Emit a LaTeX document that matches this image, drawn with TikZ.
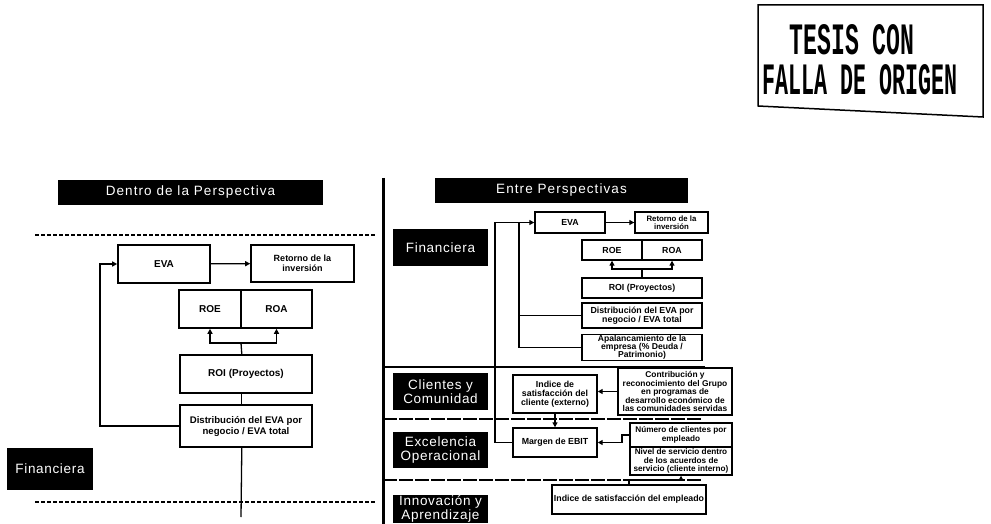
\documentclass[tikz,border=0pt]{standalone}
\usepackage{fontspec}
\setmainfont{Liberation Sans}
\newfontfamily\stampfont{Liberation Mono}
\usetikzlibrary{arrows.meta}

\begin{document}
\begin{tikzpicture}[x=1pt,y=-1pt,
  box/.style={draw, line width=1.6pt, inner sep=1pt, align=center,
    font=\bfseries\fontsize{10}{11}\selectfont},
  sbox/.style={box, line width=1.4pt, font=\bfseries\fontsize{8.8}{8.9}\selectfont},
  blk/.style={fill=black, text=white, inner sep=0pt, align=center,
    font=\fontsize{13.5}{13.5}\selectfont\addfontfeature{LetterSpace=5}},
  hdr/.style={blk, font=\fontsize{13.5}{14}\selectfont\addfontfeature{LetterSpace=8}},
  conn/.style={line width=1.3pt},
  arr/.style={conn, -{Triangle[length=5pt,width=5pt]}},
  sep/.style={line width=1.2pt, dash pattern=on 4pt off 2pt},
  rule/.style={line width=1.2pt}]
\useasboundingbox (0,0) rectangle (991,524);

% ---------- stamp ----------
\draw[line width=1.5pt] (758,5) -- (983,5) -- (983,117) -- (758,106) -- cycle;
\node[inner sep=0pt, align=center] (stamp) at (860,60)
  {\stampfont\bfseries\resizebox{125pt}{30pt}{TESIS CON}\hspace*{16pt}\\[9pt]
   \stampfont\bfseries\resizebox{195pt}{30pt}{FALLA DE ORIGEN}};

% ---------- left panel: within the perspective ----------
\node[hdr, minimum width=265pt, minimum height=25pt] (hdrL) at (190.5,192.5) {Dentro de la Perspectiva};
\coordinate (dtl) at (35,235);  \coordinate (dtr) at (375,235);
\coordinate (dbl) at (35,502);  \coordinate (dbr) at (375,502);
\draw[sep] (dtl) -- (dtr);
\draw[sep] (dbl) -- (dbr);

\node[box, minimum width=92pt, minimum height=38pt] (evaL) at (164,264) {EVA};
\node[box, minimum width=103pt, minimum height=37pt, font=\bfseries\fontsize{9}{10}\selectfont] (retL) at (302.5,263.5) {Retorno de la\\inversión};
\node[box, minimum width=62pt, minimum height=38pt] (roeL) at (210,309) {ROE};
\node[box, minimum width=71pt, minimum height=38pt] (roaL) at (276.5,309) {ROA};
\node[box, minimum width=132pt, minimum height=38pt] (roiL) at (246,374) {ROI (Proyectos)};
\node[box, minimum width=132pt, minimum height=42pt, font=\bfseries\fontsize{9.6}{11}\selectfont] (distL) at (246,426) {Distribución del EVA por\\negocio / EVA total};
\node[blk, minimum width=86pt, minimum height=42pt] (finL) at (50,469) {Financiera};

\draw[arr] (evaL) -- (retL);
\coordinate (splitL) at (241,343);
\draw[conn] (roiL.north -| roeL.east) -- (splitL);
\draw[arr] (splitL) -| (roeL.south);
\draw[arr] (splitL) -| (roaL.south);
\draw[conn] (roiL.south -| roeL.east) -- (distL.north -| roeL.east);
\coordinate (bendL) at (100,426);
\draw[arr] (distL.west) -- (bendL) |- (evaL.west);
\coordinate (endL) at (241,517);
\draw[conn] (distL.south -| roeL.east) -- (endL);

% ---------- divider ----------
\coordinate (divT) at (383,178); \coordinate (divB) at (383,524);
\draw[line width=3pt] (divT) -- (divB);

% ---------- right panel: between perspectives ----------
\node[hdr, minimum width=253pt, minimum height=25pt] (hdrR) at (561.5,190.5) {Entre Perspectivas};
\node[blk, minimum width=95pt, minimum height=37pt] (finR) at (440.5,247.5) {Financiera};
\node[blk, minimum width=95pt, minimum height=37pt] (cliR) at (440.5,391.5) {Clientes y\\Comunidad};
\node[blk, minimum width=95pt, minimum height=36pt] (excR) at (440.5,450) {Excelencia\\Operacional};
\node[blk, minimum width=95pt, minimum height=28pt] (innR) at (440.5,509) {Innovación y\\Aprendizaje};

\coordinate (s1a) at (383,367); \coordinate (s1b) at (705,367);
\coordinate (s2a) at (383,419); \coordinate (s2b) at (703,419);
\coordinate (s3a) at (383,480); \coordinate (s3b) at (703,480);
\draw[rule] (s1a) -- (s1b);
\draw[rule, dash pattern=on 14pt off 2pt] (s2a) -- (s2b);
\draw[rule, dash pattern=on 14pt off 2pt] (s3a) -- (s3b);

\node[sbox, minimum width=70pt, minimum height=21pt] (evaR) at (570,222.5) {EVA};
\node[sbox, minimum width=73pt, minimum height=21pt, font=\bfseries\fontsize{7.8}{8}\selectfont] (retR) at (671.5,222.5) {Retorno de la\\inversión};
\node[sbox, minimum width=60pt, minimum height=20pt] (roeR) at (612,250) {ROE};
\node[sbox, minimum width=60pt, minimum height=20pt] (roaR) at (672,250) {ROA};
\node[sbox, minimum width=120pt, minimum height=20pt] (roiR) at (642,288) {ROI (Proyectos)};
\node[sbox, minimum width=120pt, minimum height=25pt] (distR) at (642,315.5) {Distribución del EVA por\\negocio / EVA total};
\node[sbox, minimum width=120pt, minimum height=25pt, font=\bfseries\fontsize{8.6}{8.2}\selectfont] (apalR) at (642,347.5) {Apalancamiento de la\\empresa (\% Deuda /\\Patrimonio)};
\node[sbox, minimum width=84pt, minimum height=38pt] (indR) at (555,394) {Indice de\\satisfacción del\\cliente (externo)};
\node[sbox, minimum width=114pt, minimum height=47pt, inner sep=0pt, font=\bfseries\fontsize{8.4}{8.5}\selectfont] (conR) at (675,391.5) {Contribución y\\reconocimiento del Grupo\\en programas de\\desarrollo económico de\\las comunidades servidas};
\node[sbox, minimum width=84pt, minimum height=29pt] (marR) at (555,442.5) {Margen de EBIT};
\node[sbox, minimum width=102pt, minimum height=24pt, inner sep=0pt, font=\bfseries\fontsize{8.2}{8.6}\selectfont] (numR) at (681,435) {Número de clientes por\\empleado};
\node[sbox, minimum width=102pt, minimum height=28pt, inner sep=0pt, font=\bfseries\fontsize{8.2}{8.6}\selectfont] (nivR) at (681,461) {Nivel de servicio dentro\\de los acuerdos de\\servicio (cliente interno)};
\node[sbox, minimum width=154pt, minimum height=29pt] (empR) at (629,499.5) {Indice de satisfacción del empleado};

\draw[arr] (evaR) -- (retR);
\coordinate (splitR) at (642,269);
\draw[conn] (roiR.north) -- (splitR);
\draw[arr] (splitR) -| (roeR.south);
\draw[arr] (splitR) -| (roaR.south);

\coordinate (trunkA) at (495,222.5);
\coordinate (trunkB) at (519,222.5);
\draw[arr] (marR.west) -| (trunkA) -- (evaR.west);
\draw[conn] (apalR.west) -| (trunkB);
\draw[conn] (distR.west) -- (distR.west -| trunkB);

\draw[arr] (conR.west) -- (conR.west -| indR.east);
\draw[arr] (indR.south) -- (marR.north);
\coordinate (numBend) at (622,435);
\draw[arr] (numR.west) -- (numBend) |- (marR.east);
\coordinate (empBend) at (629,480);
\draw[arr] (empR.north) -- (empBend) -| (nivR.south);
\end{tikzpicture}
\end{document}
